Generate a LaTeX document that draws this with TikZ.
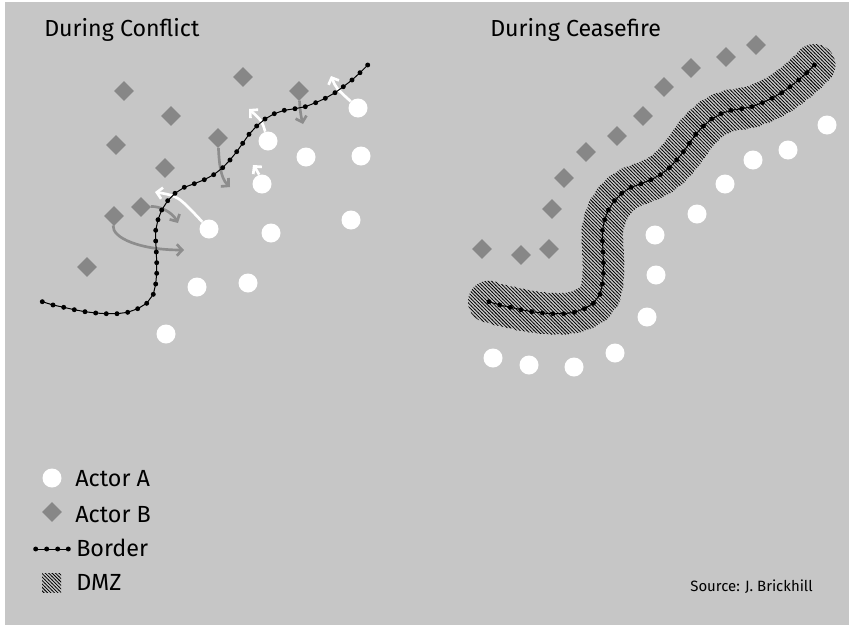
\documentclass[tikz,border=0pt]{standalone}
\usepackage{fontspec}
\setmainfont{Fira Sans}
\usetikzlibrary{positioning,arrows.meta,shapes.geometric,backgrounds,patterns}

\definecolor{panelgray}{HTML}{C6C6C6}
\definecolor{actorbgray}{HTML}{878787}
\definecolor{pushgray}{HTML}{8D8D8D}

% hatching of the demilitarised zone
\pgfdeclarepatternformonly{dmzhatch}{\pgfqpoint{-1pt}{-1pt}}{\pgfqpoint{3.6pt}{3.6pt}}{\pgfqpoint{2.6pt}{2.6pt}}{%
  \pgfsetlinewidth{0.55pt}
  \pgfpathmoveto{\pgfqpoint{-0.2pt}{2.8pt}}
  \pgfpathlineto{\pgfqpoint{2.8pt}{-0.2pt}}
  \pgfusepath{stroke}}

% border dots, in pixels of the left panel
\def\borderxy{42.3/301.7, 53/305, 63.7/307.3, 74.3/309.7, 85/311.7, 95.7/313,
  106.3/313.7, 117/313.7, 127.7/312.3, 137.7/308.7, 146.7/303.3, 153.3/294.3,
  155.7/284, 156.7/273.3, 156.7/262.7, 156.3/252, 155.7/241, 155.7/230.3,
  158/219.7, 161.7/210, 167.7/200.7, 175/193.3, 184.3/187.3, 194.3/183.7,
  204.3/179.7, 213.7/174.7, 222.7/167.7, 230/160, 236.7/151.7, 242.7/143.3,
  249/134.3, 256.7/126, 265/119, 274.3/113.7, 284.3/110.3, 295/108.7,
  305.3/106.7, 315.7/102.7, 325.3/98.3, 335/92.7, 343.3/86.7, 352/80,
  360/72.7, 367.7/65}

\newcommand{\drawborder}{%
  \draw[borderline] (42.3,301.7) \foreach \x/\y in \borderxy {-- (\x,\y)};
  \foreach \x/\y in \borderxy \fill (\x,\y) circle (1.85pt);
}

\begin{document}
\begin{tikzpicture}[
  x=0.75pt, y=-0.75pt,
  actora/.style={circle, fill=white, minimum size=14.25pt, inner sep=0pt},
  actorb/.style={diamond, fill=actorbgray, minimum size=15pt, inner sep=0pt},
  heading/.style={font=\fontsize{17.4}{20}\selectfont, anchor=base west, inner sep=0pt},
  legendtext/.style={font=\fontsize{17.5}{20}\selectfont, anchor=base west, inner sep=0pt},
  pusha/.style={white, line width=2pt, -{Straight Barb[length=4pt,width=8.5pt]}},
  pushb/.style={pushgray, line width=2pt, -{Straight Barb[length=4pt,width=8.5pt]}},
  borderline/.style={black, line width=0.75pt}
]
  \useasboundingbox (0,0) rectangle (849,625);

  % titles
  \node[heading] (conflict) at (44,36) {During Conflict};
  \node[heading] (ceasefire) at (490,36) {During Ceasefire};

  % during conflict
  \drawborder
  \foreach \n/\x/\y in {1/124/91, 2/243/77, 3/299/91, 4/171/116, 5/116/145,
      6/218/138, 7/165/168, 8/141/207, 9/114/216, 10/87/267}
    \node[actorb] (b\n) at (\x,\y) {};
  \foreach \n/\x/\y in {1/358/108, 2/268/141, 3/306/157, 4/361/156, 5/262/184,
      6/209/229, 7/271/233, 8/351/220, 9/197/287, 10/248/283, 11/166/334}
    \node[actora] (a\n) at (\x,\y) {};

  \coordinate (w1) at (155,192);
  \coordinate (w2) at (249,109);
  \coordinate (w3) at (253,165);
  \coordinate (w4) at (331,76);
  \coordinate (g1) at (230,187);
  \coordinate (g2) at (303,124);
  \coordinate (g3) at (178,223);
  \coordinate (g4) at (184,250);

  \begin{pgfonlayer}{background}
    \fill[white] (0,0) rectangle (849,625);
    \fill[panelgray] (5,2) rectangle (849,625);
    \draw[pusha] (a6) .. controls (178,196) .. (w1);
    \draw[pusha] (a2) .. controls (262,121) .. (w2);
    \draw[pusha] (a5) .. controls (258,171) .. (w3);
    \draw[pusha] (a1) .. controls (336,88) .. (w4);
    \draw[pushb] (b6) .. controls (219,160) and (220,178) .. (g1);
    \draw[pushb] (b3) .. controls (300,110) and (301,117) .. (g2);
    \draw[pushb] (b8) .. controls (160,206) and (172,212) .. (g3);
    \draw[pushb] (b9) .. controls (112,238) and (140,250) .. (g4);
  \end{pgfonlayer}

  % during ceasefire
  \begin{scope}[shift={(446.7,0)}]
    \begin{scope}
      \clip \foreach \x/\y in \borderxy {(\x,\y) circle (15.75pt)};
      \fill[pattern=dmzhatch, pattern color=black] (0,30) rectangle (402,345);
    \end{scope}
    \drawborder
  \end{scope}
  \foreach \n/\x/\y in {1/756/45, 2/726/57, 3/691/68, 4/664/87, 5/643/116,
      6/617/136, 7/586/152, 8/564/178, 9/552/209, 10/549/249, 11/521/255, 12/482/249}
    \node[actorb] (c\n) at (\x,\y) {};
  \foreach \n/\x/\y in {1/827/125, 2/788/150, 3/753/160, 4/725/184, 5/697/214,
      6/655/235, 7/656/275, 8/647/317, 9/615/353, 10/574/367, 11/529/365, 12/493/358}
    \node[actora] (d\n) at (\x,\y) {};

  % legend
  \node[actora] (la) at (52,478) {};
  \node[actorb] (lb) at (52,512) {};
  \draw[borderline] (35,549) -- (69,549);
  \foreach \x in {35.7,46.7,57.7,68.3} \fill (\x,549) circle (1.85pt);
  \fill[pattern=dmzhatch, pattern color=black] (42,573) rectangle (61,592);
  \node[legendtext] (lta) at (75,486) {Actor A};
  \node[legendtext] (ltb) at (75,522) {Actor B};
  \node[legendtext] (ltc) at (76,556) {Border};
  \node[legendtext] (ltd) at (76,590) {DMZ};

  \node[font=\fontsize{11.2}{14}\selectfont, anchor=base east, inner sep=0pt]
    (source) at (813,591) {Source: J. Brickhill};
\end{tikzpicture}
\end{document}
